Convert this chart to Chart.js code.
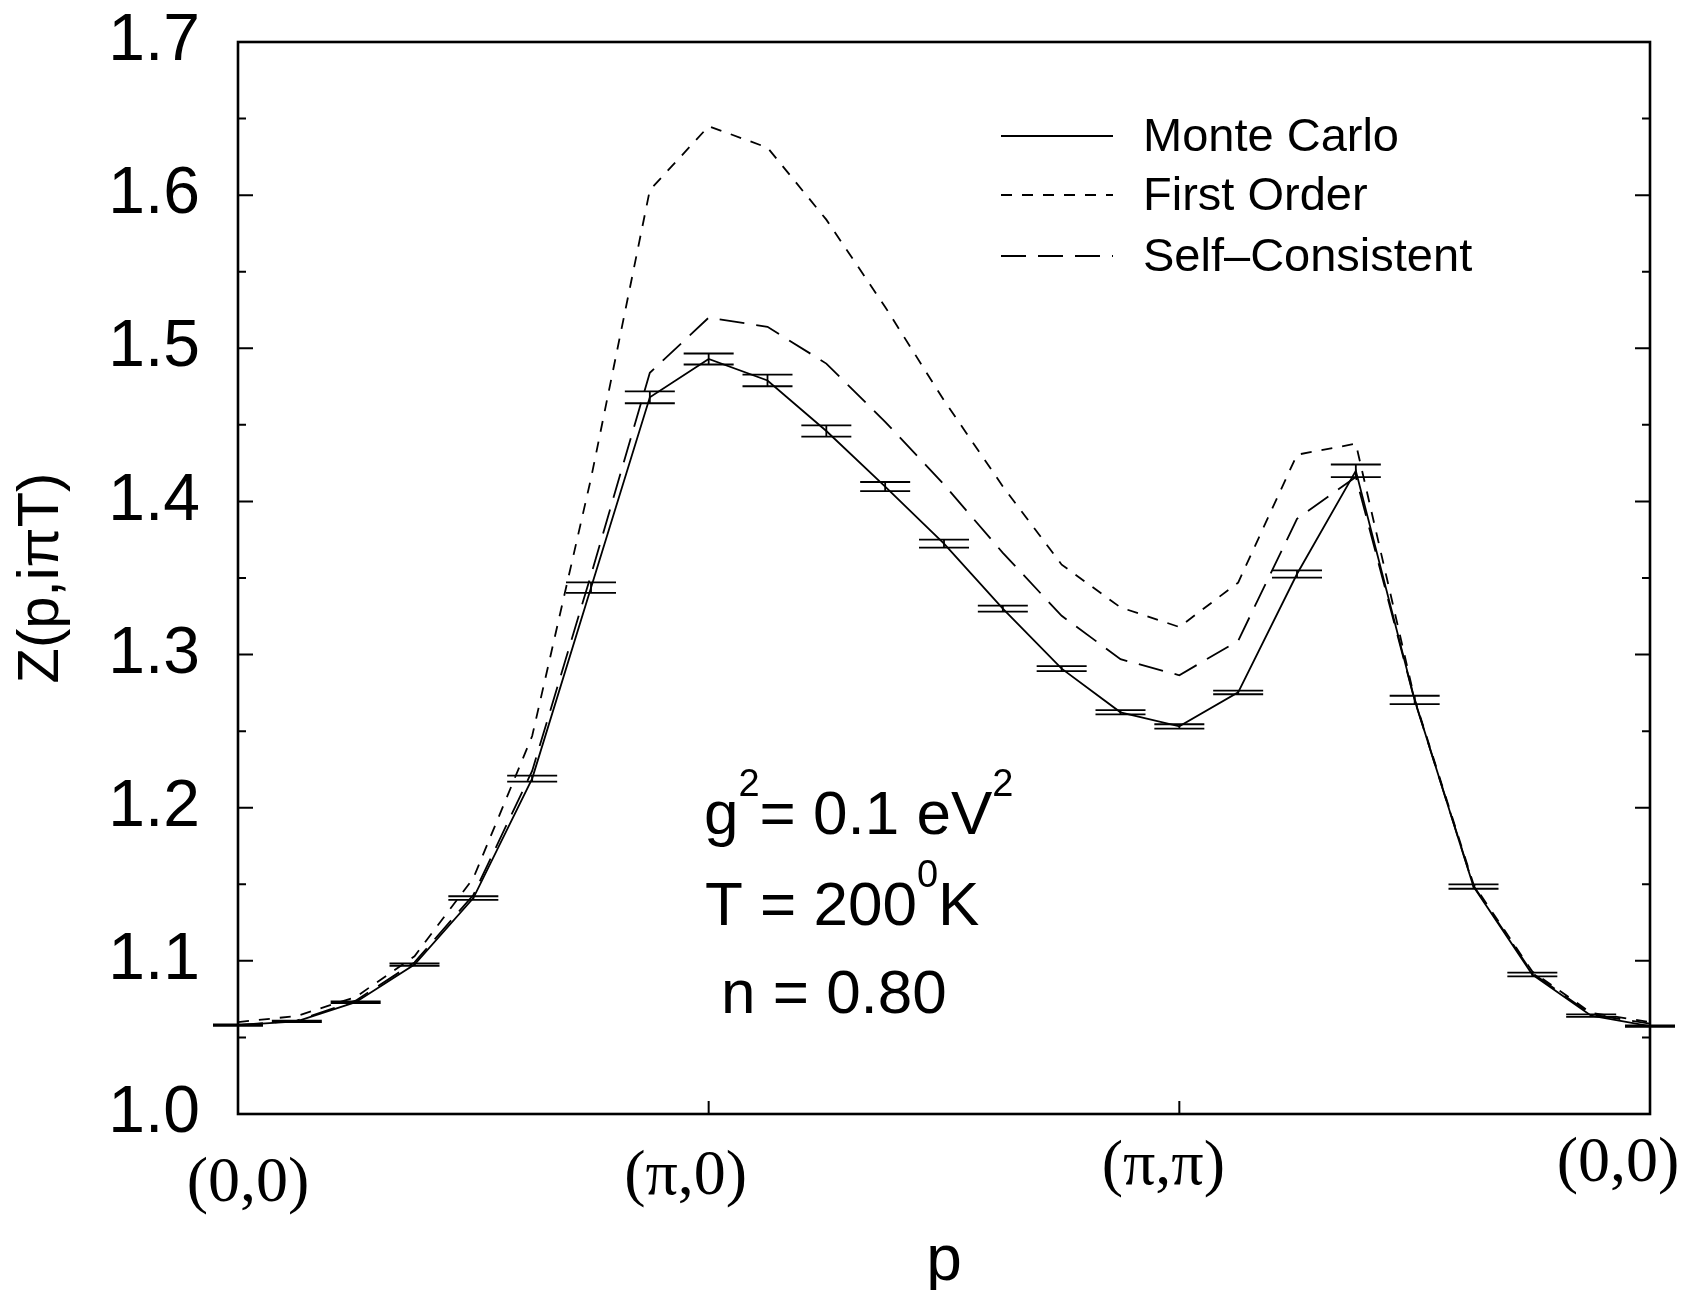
<!DOCTYPE html>
<html>
<head>
<meta charset="utf-8">
<script src="https://cdn.jsdelivr.net/npm/chart.js@4.4.1/dist/chart.umd.min.js"></script>
<style>
  html, body { margin: 0; padding: 0; background: #fff; }
  #wrap { width: 1691px; height: 1290px; }
</style>
</head>
<body>
<div id="wrap"><canvas id="chart" width="1691" height="1290"></canvas></div>
<script>
// momentum path index along (0,0) -> (pi,0) -> (pi,pi) -> (0,0)
const kPoints = [0, 1, 2, 3, 4, 5, 6, 7, 8, 9, 10, 11, 12, 13, 14, 15, 16, 17, 18, 19, 20, 21, 22, 23, 24];
const kTickPos = [0, 8, 16, 24];
const kTickLabels = ["(0,0)", "(π,0)", "(π,π)", "(0,0)"];
const yTicks = [1.0, 1.1, 1.2, 1.3, 1.4, 1.5, 1.6, 1.7];
const yMinorTicks = [1.05, 1.15, 1.25, 1.35, 1.45, 1.55, 1.65];

const monteCarlo = [1.058, 1.0605, 1.073, 1.0976, 1.141, 1.219, 1.3437, 1.468, 1.493, 1.479, 1.446, 1.4097, 1.3724,
  1.330, 1.2908, 1.2623, 1.2531, 1.2753, 1.3526, 1.420, 1.2704, 1.1485, 1.0911, 1.0642, 1.0574];
const monteCarloErr = [0.0005, 0.0005, 0.0006, 0.0008, 0.0012, 0.002, 0.0034, 0.0039, 0.0036, 0.0038, 0.0037, 0.003, 0.0026,
  0.0019, 0.0016, 0.0014, 0.0014, 0.0012, 0.0024, 0.0041, 0.0027, 0.0014, 0.0012, 0.0008, 0.0005];
const firstOrder = [1.060, 1.064, 1.0764, 1.103, 1.154, 1.2468, 1.415, 1.6033, 1.645, 1.631, 1.584, 1.527, 1.466,
  1.4098, 1.3587, 1.3308, 1.318, 1.347, 1.4305, 1.4377, 1.271, 1.150, 1.093, 1.066, 1.060];
const selfConsistent = [1.058, 1.061, 1.074, 1.099, 1.143, 1.224, 1.352, 1.484, 1.520, 1.514, 1.490, 1.452, 1.411,
  1.3664, 1.3253, 1.297, 1.2865, 1.309, 1.3886, 1.416, 1.270, 1.149, 1.092, 1.065, 1.059];

const SANS = '"Liberation Sans", Arial, Helvetica, sans-serif';
const SERIF = '"Liberation Serif", "Times New Roman", serif';
const DASH_SHORT = [11, 10];
const DASH_LONG = [25, 12];
// small hand placement of the path labels, as in the original figure
const kLabelDx = [10, -23, -16, -32];
const kLabelY = [1184, 1177, 1167, 1164];

const toXY = arr => arr.map((v, i) => ({ x: kPoints[i], y: v }));

const frameAndTicks = {
  id: "frameAndTicks",
  afterDraw(chart) {
    const { ctx, chartArea: a, scales: { x, y } } = chart;
    ctx.save();
    ctx.strokeStyle = "#000";
    ctx.lineWidth = 2.6;
    ctx.strokeRect(a.left, a.top, a.right - a.left, a.bottom - a.top);
    ctx.lineWidth = 2;
    ctx.beginPath();
    yTicks.forEach(v => {
      const py = y.getPixelForValue(v);
      ctx.moveTo(a.left, py); ctx.lineTo(a.left + 15, py);
      ctx.moveTo(a.right, py); ctx.lineTo(a.right - 15, py);
    });
    yMinorTicks.forEach(v => {
      const py = y.getPixelForValue(v);
      ctx.moveTo(a.left, py); ctx.lineTo(a.left + 8, py);
      ctx.moveTo(a.right, py); ctx.lineTo(a.right - 8, py);
    });
    kTickPos.slice(1, -1).forEach(v => {
      const px = x.getPixelForValue(v);
      ctx.moveTo(px, a.bottom); ctx.lineTo(px, a.bottom - 13);
    });
    ctx.stroke();

    // path labels under the x axis
    ctx.fillStyle = "#000";
    ctx.font = "64px " + SERIF;
    ctx.textAlign = "center";
    ctx.textBaseline = "middle";
    kTickPos.forEach((v, i) => {
      ctx.fillText(kTickLabels[i], x.getPixelForValue(v) + kLabelDx[i], kLabelY[i]);
    });
    ctx.restore();
  }
};

const errorBars = {
  id: "errorBars",
  afterDatasetsDraw(chart) {
    const { ctx, scales: { x, y } } = chart;
    ctx.save();
    ctx.strokeStyle = "#000";
    ctx.lineWidth = 1.8;
    ctx.beginPath();
    monteCarlo.forEach((v, i) => {
      const px = x.getPixelForValue(kPoints[i]);
      const yt = y.getPixelForValue(v + monteCarloErr[i]);
      const yb = y.getPixelForValue(v - monteCarloErr[i]);
      ctx.moveTo(px, yt); ctx.lineTo(px, yb);
      ctx.moveTo(px - 25, yt); ctx.lineTo(px + 25, yt);
      ctx.moveTo(px - 25, yb); ctx.lineTo(px + 25, yb);
    });
    ctx.stroke();
    ctx.restore();
  }
};

function drawParts(ctx, parts, x, y) {
  parts.forEach(p => {
    ctx.font = (p.sup ? "38px " : "62px ") + SANS;
    ctx.fillText(p.t, x, p.sup ? y - 38 : y);
    x += ctx.measureText(p.t).width;
  });
}

const labelsPlugin = {
  id: "labelsPlugin",
  afterDraw(chart) {
    const { ctx } = chart;
    ctx.save();
    ctx.fillStyle = "#000";
    ctx.textBaseline = "alphabetic";
    ctx.textAlign = "left";
    drawParts(ctx, [{ t: "g" }, { t: "2", sup: true }, { t: "= 0.1 eV" }, { t: "2", sup: true }], 704, 834);
    drawParts(ctx, [{ t: "T = 200" }, { t: "0", sup: true }, { t: "K" }], 705, 925);
    drawParts(ctx, [{ t: "n = 0.80" }], 721, 1013);

    // legend
    const rows = [
      { text: "Monte Carlo", dash: [], y: 136 },
      { text: "First Order", dash: DASH_SHORT, y: 195 },
      { text: "Self\u2013Consistent", dash: DASH_LONG, y: 256 }
    ];
    ctx.font = "47px " + SANS;
    ctx.textBaseline = "middle";
    rows.forEach(r => {
      ctx.strokeStyle = "#000";
      ctx.lineWidth = 1.8;
      ctx.setLineDash(r.dash);
      ctx.beginPath();
      ctx.moveTo(1001, r.y); ctx.lineTo(1113, r.y);
      ctx.stroke();
      ctx.setLineDash([]);
      ctx.fillText(r.text, 1143, r.y + 2);
    });
    ctx.restore();
  }
};

new Chart(document.getElementById("chart"), {
  type: "line",
  data: {
    datasets: [
      { label: "Monte Carlo", data: toXY(monteCarlo), borderColor: "#000", borderWidth: 1.8, pointRadius: 0, tension: 0, fill: false },
      { label: "First Order", data: toXY(firstOrder), borderColor: "#000", borderWidth: 1.8, borderDash: DASH_SHORT, pointRadius: 0, tension: 0, fill: false },
      { label: "Self-Consistent", data: toXY(selfConsistent), borderColor: "#000", borderWidth: 1.8, borderDash: DASH_LONG, pointRadius: 0, tension: 0, fill: false }
    ]
  },
  options: {
    responsive: false,
    devicePixelRatio: 1,
    animation: false,
    layout: { padding: { top: 42, right: 41, left: 0, bottom: 0 } },
    plugins: { legend: { display: false }, tooltip: { enabled: false } },
    scales: {
      x: {
        type: "linear",
        min: 0,
        max: 24,
        grid: { display: false, drawTicks: false },
        border: { display: false },
        afterBuildTicks: s => { s.ticks = kTickPos.map(v => ({ value: v })); },
        afterFit: s => { s.height = 176; s.paddingLeft = 0; s.paddingRight = 0; },
        ticks: { display: false },
        title: { display: true, text: "p", color: "#000", padding: { top: 0, bottom: 0 }, font: { family: SANS, size: 64, lineHeight: 0.85 } }
      },
      y: {
        min: 1.0,
        max: 1.7,
        grid: { display: false, drawTicks: false },
        border: { display: false },
        afterBuildTicks: s => { s.ticks = yTicks.map(v => ({ value: v })); },
        afterFit: s => { s.width = 238; s.paddingTop = 0; s.paddingBottom = 0; },
        ticks: {
          color: "#000",
          padding: 38,
          font: { family: SANS, size: 66 },
          callback: v => v.toFixed(1)
        },
        title: { display: true, text: "Z(p,iπT)", color: "#000", padding: { top: 7, bottom: 0 }, font: { family: SANS, size: 58 } }
      }
    }
  },
  plugins: [errorBars, frameAndTicks, labelsPlugin]
});
</script>
</body>
</html>
